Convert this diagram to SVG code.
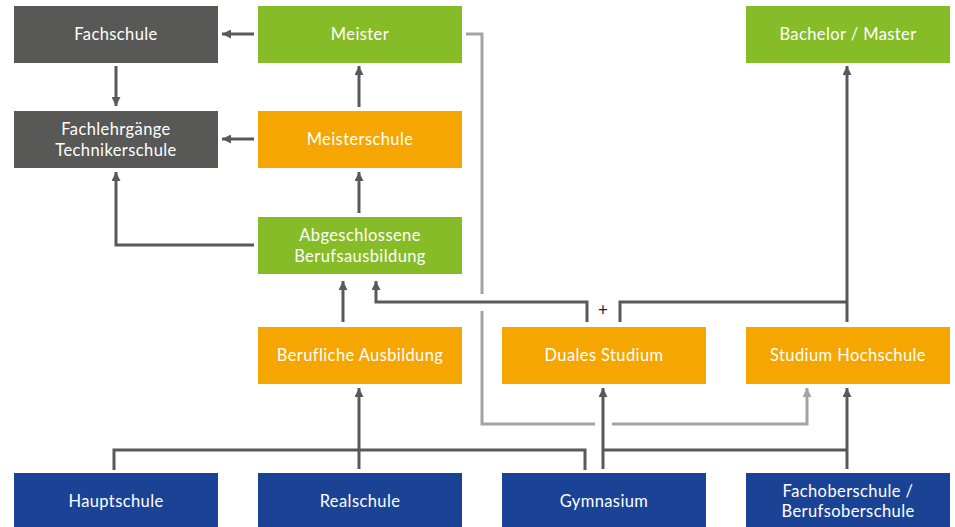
<svg xmlns="http://www.w3.org/2000/svg" width="955" height="527" viewBox="0 0 955 527">
<style>
.gray{fill:#585857}.green{fill:#86bc27}.orange{fill:#f5a600}.blue{fill:#1a4396}
text{font-family:Lato,"Liberation Sans",sans-serif;font-size:16.5px;letter-spacing:0.4px;fill:#fff;text-anchor:middle}
.dk{fill:none;stroke:#595959;stroke-width:3}
.lt{fill:none;stroke:#a3a3a3;stroke-width:3}
</style>
<defs>
<marker id="ad" viewBox="0 0 10 10" refX="10" refY="5" markerWidth="3.6" markerHeight="3" orient="auto" markerUnits="strokeWidth"><path d="M0,0 L10,5 L0,10 Z" fill="#595959"/></marker>
<marker id="al" viewBox="0 0 10 10" refX="10" refY="5" markerWidth="3.6" markerHeight="3" orient="auto" markerUnits="strokeWidth"><path d="M0,0 L10,5 L0,10 Z" fill="#a3a3a3"/></marker>
</defs>
<g id="connectors">
<path class="lt" d="M466,34 H482 V294 M482,311 V424 H595"/>
<path class="lt" d="M612,424 H807 V388" marker-end="url(#al)"/>
<path class="dk" d="M254,34 H222" marker-end="url(#ad)"/>
<path class="dk" d="M116,66 V106" marker-end="url(#ad)"/>
<path class="dk" d="M254,139 H222" marker-end="url(#ad)"/>
<path class="dk" d="M359,107 V66" marker-end="url(#ad)"/>
<path class="dk" d="M359,213 V172" marker-end="url(#ad)"/>
<path class="dk" d="M254,245 H116 V172" marker-end="url(#ad)"/>
<path class="dk" d="M343,322 V281" marker-end="url(#ad)"/>
<path class="dk" d="M587,322 V302 H376 V281" marker-end="url(#ad)"/>
<path class="dk" d="M620,322 V302 H847"/>
<path class="dk" d="M847,322 V66" marker-end="url(#ad)"/>
<path class="dk" d="M114,470 V450 H585 V470"/>
<path class="dk" d="M359,469 V388" marker-end="url(#ad)"/>
<path class="dk" d="M603,469 V388" marker-end="url(#ad)"/>
<path class="dk" d="M603,450 H847"/>
<path class="dk" d="M847,469 V388" marker-end="url(#ad)"/>
<text x="603" y="315.5" style="fill:#222;font-size:17px;letter-spacing:0">+</text>
</g>
<g id="fachschule"><rect class="gray" x="14" y="6" width="204" height="57"/><text x="116" y="40">Fachschule</text></g>
<g id="meister"><rect class="green" x="258" y="6" width="204" height="57"/><text x="360" y="40">Meister</text></g>
<g id="bachelor"><rect class="green" x="746" y="6" width="204" height="57"/><text x="848" y="40">Bachelor / Master</text></g>
<g id="fachlehrgaenge"><rect class="gray" x="14" y="111" width="204" height="57"/><text x="116" y="135">Fachlehrgänge</text><text x="116" y="156">Technikerschule</text></g>
<g id="meisterschule"><rect class="orange" x="258" y="111" width="204" height="57"/><text x="360" y="145">Meisterschule</text></g>
<g id="abgeschlossene"><rect class="green" x="258" y="217" width="204" height="57"/><text x="360" y="241">Abgeschlossene</text><text x="360" y="262">Berufsausbildung</text></g>
<g id="berufliche"><rect class="orange" x="258" y="327" width="204" height="57"/><text x="360" y="361">Berufliche Ausbildung</text></g>
<g id="duales"><rect class="orange" x="502" y="327" width="204" height="57"/><text x="604" y="361">Duales Studium</text></g>
<g id="hochschule"><rect class="orange" x="746" y="327" width="204" height="57"/><text x="848" y="361">Studium Hochschule</text></g>
<g id="hauptschule"><rect class="blue" x="14" y="473" width="204" height="57"/><text x="116" y="507">Hauptschule</text></g>
<g id="realschule"><rect class="blue" x="258" y="473" width="204" height="57"/><text x="360" y="507">Realschule</text></g>
<g id="gymnasium"><rect class="blue" x="502" y="473" width="204" height="57"/><text x="604" y="507">Gymnasium</text></g>
<g id="fachoberschule"><rect class="blue" x="746" y="473" width="204" height="57"/><text x="848" y="497">Fachoberschule /</text><text x="848" y="517">Berufsoberschule</text></g>
</svg>
